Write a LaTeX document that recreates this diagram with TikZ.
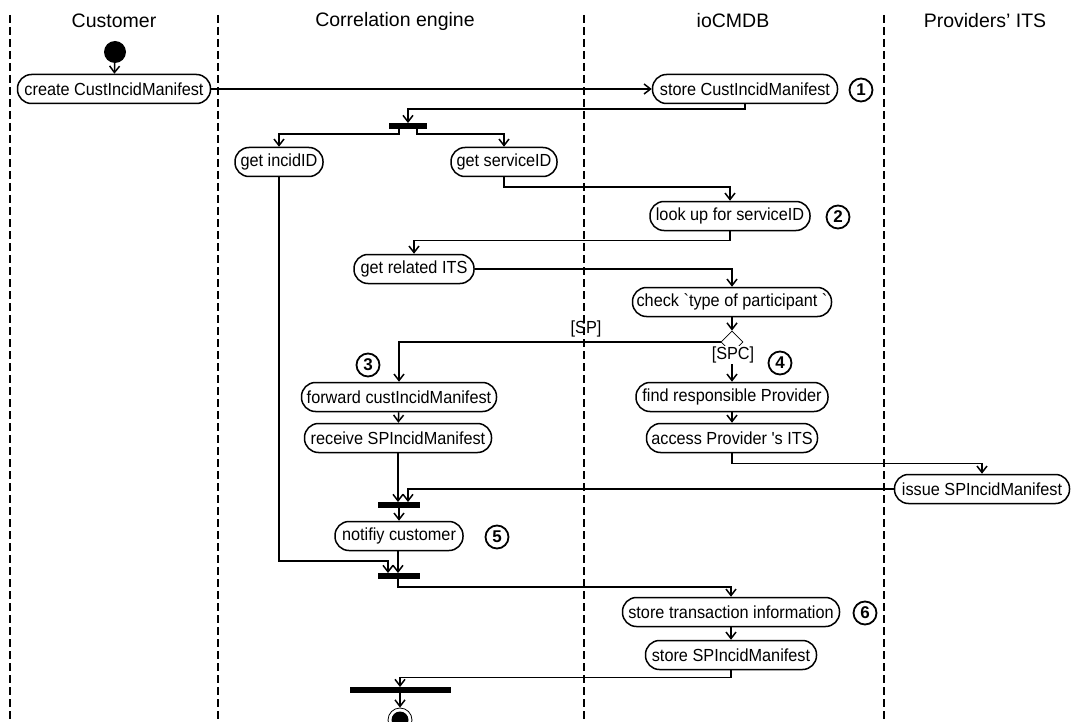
\documentclass[tikz,border=0pt]{standalone}
\usepackage{fontspec}
\setmainfont{Liberation Sans}
\newfontfamily\actfont{Liberation Sans}[FakeStretch=0.93]
\usetikzlibrary{arrows.meta,shapes.geometric,calc}

\begin{document}
\begin{tikzpicture}[x=1pt,y=-1pt,
  every node/.style={font=\actfont\fontsize{17.5}{20}\selectfont},
  act/.style={draw,line width=1.5pt,rounded corners=14pt,minimum height=29pt,inner sep=0pt,align=center},
  bar/.style={fill=black,draw=none,inner sep=0pt,minimum height=5.5pt},
  lane/.style={line width=1.2pt,dash pattern=on 8pt off 4pt},
  title/.style={font=\fontsize{19.5}{22}\selectfont},
  num/.style={draw,circle,line width=1.8pt,minimum size=23pt,inner sep=0pt,font=\fontsize{17}{17}\selectfont\bfseries},
  flow/.style={line width=1.5pt,-{Straight Barb[length=6.5pt,width=10pt]}},
  guard/.style={inner sep=1pt},
]
\clip (0,0) rectangle (1078,722);
\fill[white] (0,0) rectangle (1078,722);

% swimlane separators
\draw[lane] (10,15) -- (10,722);
\draw[lane] (218,15) -- (218,722);
\draw[lane] (584,15) -- (584,722);
\draw[lane] (884,15) -- (884,722);

% lane titles
\node[title] (tcust) at (114,21) {Customer};
\node[title] (tcorr) at (395,21) {Correlation engine};
\node[title] (tcmdb) at (733,21) {ioCMDB};
\node[title] (tits)  at (985,21) {Providers’ ITS};

% initial and final states
\node[circle,fill,minimum size=22pt,inner sep=0pt] (start) at (115,52) {};
\node[circle,draw,line width=0.8pt,minimum size=24pt,inner sep=0pt] (end) at (400,720) {};
\node[circle,fill,minimum size=17pt,inner sep=0pt] (endin) at (400,720) {};

% activities
\node[act,minimum width=193pt] (create)  at (114,89)  {create CustIncidManifest};
\node[act,minimum width=185pt] (storeC)  at (745,89)  {store CustIncidManifest};
\node[act,minimum width=88pt]  (incid)   at (279,162) {get incidID};
\node[act,minimum width=106pt] (service) at (504,162) {get serviceID};
\node[act,minimum width=160pt] (lookup)  at (730,216) {look up for serviceID};
\node[act,minimum width=120pt] (related) at (414,269) {get related ITS};
\node[act,minimum width=199pt] (check)   at (732,302) {check `type of participant `};
\node[act,minimum width=195pt] (forward) at (399,397) {forward custIncidManifest};
\node[act,minimum width=187pt] (receive) at (398,438) {receive SPIncidManifest};
\node[act,minimum width=192pt] (find)    at (732,397) {find responsible Provider};
\node[act,minimum width=171pt] (access)  at (732,438) {access Provider 's ITS};
\node[act,minimum width=175pt] (issue)   at (982,489) {issue SPIncidManifest};
\node[act,minimum width=128pt] (notify)  at (399,536) {notifiy customer};
\node[act,minimum width=217pt] (storeT)  at (731,612) {store transaction information};
\node[act,minimum width=171pt] (storeS)  at (731,655) {store SPIncidManifest};

% decision
\node[diamond,draw,line width=0.8pt,minimum width=22pt,minimum height=22pt,inner sep=0pt] (dia) at (732,342) {};

% fork / join bars
\node[bar,minimum width=38pt]  (bar1) at (408,126) {};
\node[bar,minimum width=42pt]  (bar2) at (399,505) {};
\node[bar,minimum width=42pt]  (bar3) at (399,576) {};
\node[bar,minimum width=101pt] (bar4) at (400,690) {};

% step numbers
\node[num] (n1) at (861,90)  {1};
\node[num] (n2) at (838,217) {2};
\node[num] (n3) at (368,365) {3};
\node[num] (n4) at (780,363) {4};
\node[num] (n5) at (497,537) {5};
\node[num] (n6) at (865,613) {6};

% control flow
\draw[flow] (start) -- (create);
\draw[flow] (create.east) -- (storeC.west);
\draw[flow] (storeC.south) -- ++(0,-5pt) -| (bar1.north);
\draw[flow] ([xshift=-9pt]bar1.south) -- ++(0,-5pt) -| (incid.north);
\draw[flow] ([xshift=9pt]bar1.south) -- ++(0,-5pt) -| (service.north);
\draw[flow] (service.south) -- ++(0,-10pt) -| (lookup.north);
\draw[flow] (lookup.south) -- ++(0,-9pt) -| (related.north);
\draw[flow] (related.east) -| (check.north);
\draw[flow] (check.south) -- (dia.north);
\draw[flow] (dia.west) -| (forward.north);
\draw[flow] (dia.south) -- (find.north);
\node[guard,fill=white] (spc) at (733,355) {[SPC]};
\node[guard] (sp) at (586,329) {[SP]};
\draw[flow] (forward) -- (receive);
\draw[flow] (find) -- (access);
\draw[flow] (access.south) -- ++(0,-10pt) -| (issue.north);
\draw[flow] (issue.west) -| ([xshift=9pt]bar2.north);
\draw[flow] (receive.south) -- (receive.south |- bar2.north);
\draw[flow] (bar2.south) -- (notify.north);
\draw[flow] ([xshift=-1pt]notify.south) -- ([xshift=-1pt]bar3.north);
\draw[flow] (incid.south) |- ($(bar3.north)+(-11pt,12pt)$) -- ([xshift=-11pt]bar3.north);
\draw[flow] ([xshift=-1pt]bar3.south) -- ++(0,-8pt) -| (storeT.north);
\draw[flow] (storeT) -- (storeS);
\draw[flow] (storeS.south) -- ++(0,-7pt) -| (bar4.north);
\draw[flow] (bar4.south) -- (end.north);
\end{tikzpicture}
\end{document}
